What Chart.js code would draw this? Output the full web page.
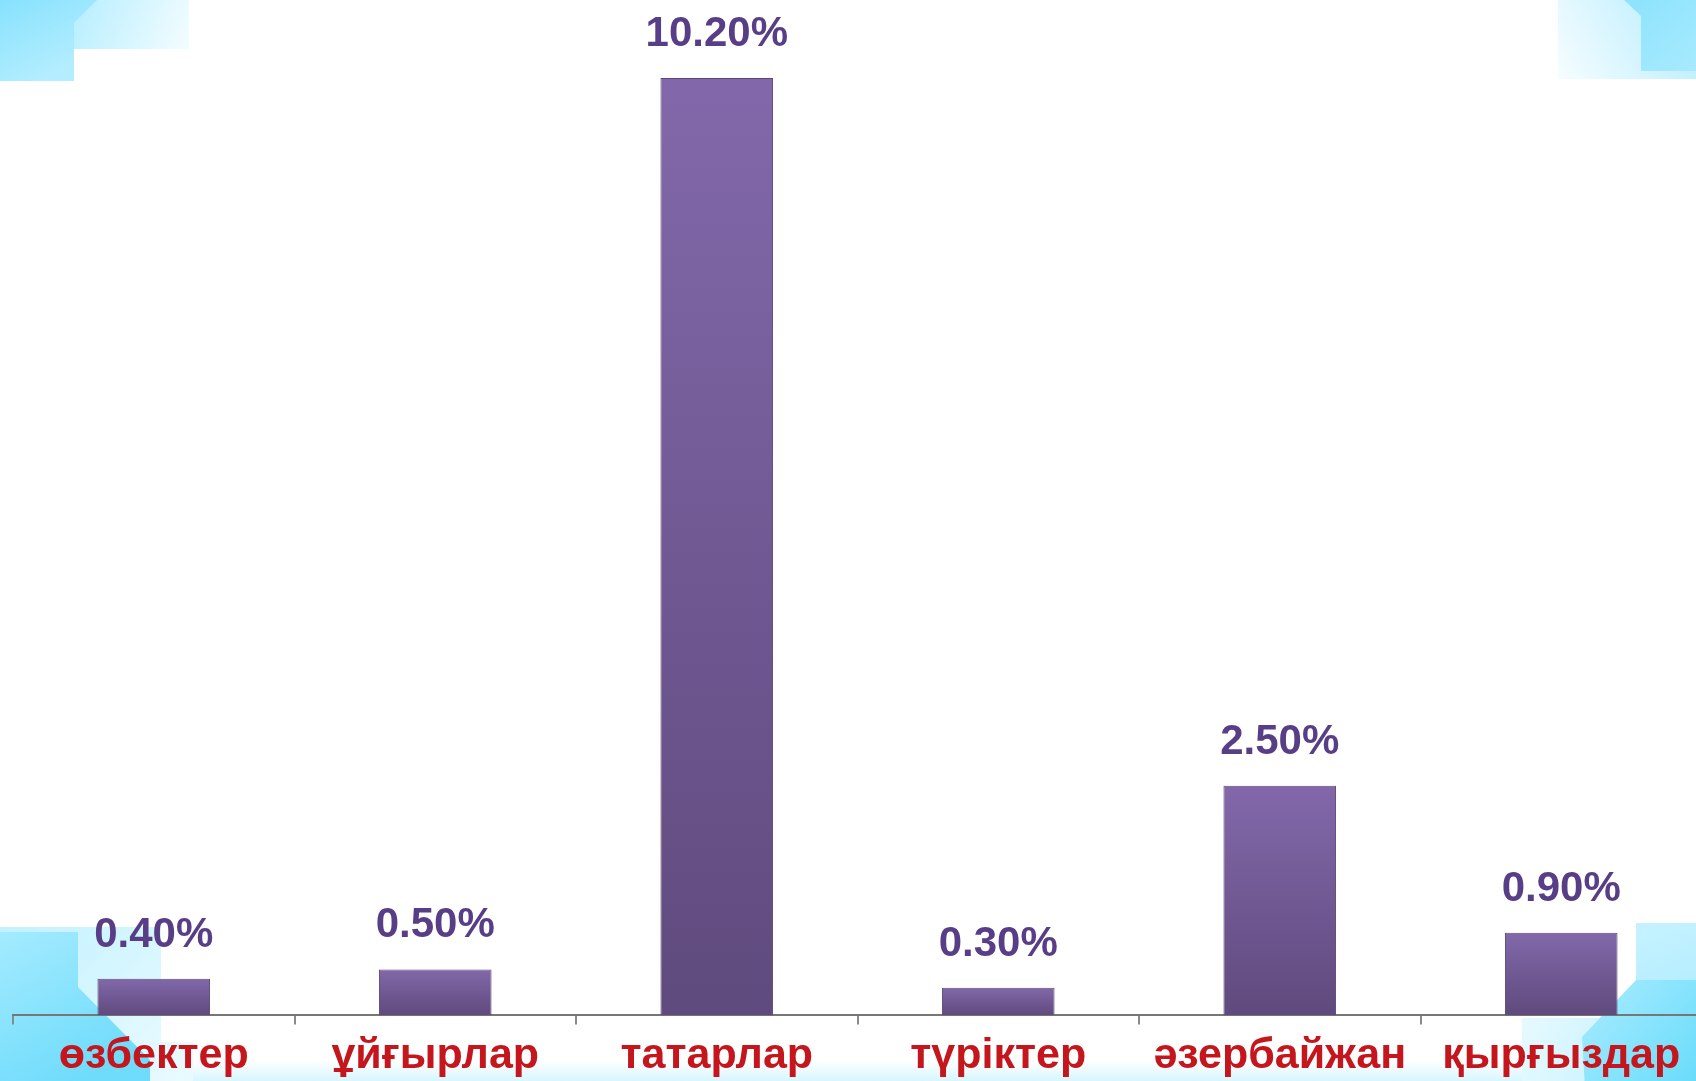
<!DOCTYPE html>
<html>
<head>
<meta charset="utf-8">
<script src="https://cdn.jsdelivr.net/npm/chart.js@4.4.1/dist/chart.umd.min.js"></script>
<style>
    html, body { margin: 0; padding: 0; background: #fff; overflow: hidden; width: 1696px; height: 1081px; }
    canvas { display: block; }
</style>
</head>
<body>
<canvas id="myChart" width="1702" height="1088"></canvas>
<script>
const groupNames = ['өзбектер', 'ұйғырлар', 'татарлар', 'түріктер', 'әзербайжан', 'қырғыздар'];
const shareValues = [0.4, 0.5, 10.2, 0.3, 2.5, 0.9];
const shareLabels = ['0.40%', '0.50%', '10.20%', '0.30%', '2.50%', '0.90%'];

const fontFamily = "'Liberation Sans', Arial, sans-serif";
const VIEW_W = 1696;
const VIEW_H = 1081;

// cyan corner pieces behind the chart
const cornerPlugin = {
    id: 'corners',
    beforeDraw(chart) {
        const ctx = chart.ctx;
        const w = chart.width, h = chart.height;
        const r = VIEW_W;
        ctx.save();
        ctx.fillStyle = '#fff';
        ctx.fillRect(0, 0, w, h);

        const poly = (pts, g) => {
            ctx.beginPath();
            ctx.moveTo(pts[0][0], pts[0][1]);
            pts.slice(1).forEach(p => ctx.lineTo(p[0], p[1]));
            ctx.closePath();
            ctx.fillStyle = g;
            ctx.fill();
        };
        const lin = (x0, y0, x1, y1, c0, c1) => {
            const g = ctx.createLinearGradient(x0, y0, x1, y1);
            g.addColorStop(0, c0);
            g.addColorStop(1, c1);
            return g;
        };

        // bottom strip
        poly([[0, 1060], [w, 1060], [w, h], [0, h]], lin(0, 1060, 0, VIEW_H, 'rgba(255,255,255,1)', '#d8f6ff'));

        // top left
        poly([[74, 0], [189, 0], [189, 49], [74, 49]], lin(74, 0, 189, 49, '#b6eeff', '#f4fdff'));
        poly([[0, 0], [97, 0], [74, 23], [74, 81], [0, 81]], lin(0, 0, 40, 81, '#86e2fd', '#b4edff'));

        // top right
        poly([[1558, 0], [w, 0], [w, 79], [1558, 79]], lin(1558, 79, r, 0, '#f6fdff', '#b4ecff'));
        poly([[1624, 0], [w, 0], [w, 71], [1641, 71], [1641, 16]], lin(1641, 0, r, 71, '#8ee4fd', '#a8eafe'));

        // bottom left
        poly([[0, 927], [161, 927], [161, h], [0, h]], lin(0, 927, 161, VIEW_H, '#c2f1ff', '#e8fbff'));
        poly([[0, 1042], [193, 1042], [193, h], [0, h]], lin(0, 1042, 193, VIEW_H, '#c8f2ff', '#eafbff'));
        poly([[0, 932], [78, 932], [78, 987], [150, 1060], [150, h], [0, h]], lin(0, 932, 80, VIEW_H, '#a4ebff', '#6fdcfb'));

        // bottom right
        poly([[1522, 1018], [w, 1018], [w, h], [1522, h]], lin(1522, 1018, r, VIEW_H, '#e6faff', '#b6edff'));
        poly([[1636, 923], [w, 923], [w, h], [1636, h]], lin(1636, 923, r, VIEW_H, '#c6f2ff', '#a2e9ff'));
        poly([[1636, 980], [w, 980], [w, h], [1585, h], [1582, 1037]], lin(1582, 980, r, VIEW_H, '#aaecff', '#6adcfb'));
        ctx.restore();
    }
};

// percentage labels above each bar
const valueLabelPlugin = {
    id: 'valueLabels',
    afterDatasetsDraw(chart) {
        const ctx = chart.ctx;
        const meta = chart.getDatasetMeta(0);
        ctx.save();
        ctx.font = 'bold 42px ' + fontFamily;
        ctx.fillStyle = '#583e86';
        ctx.textAlign = 'center';
        ctx.textBaseline = 'alphabetic';
        meta.data.forEach((bar, i) => {
            ctx.fillText(shareLabels[i], bar.x, bar.y - 32);
        });
        ctx.restore();
    }
};

const ctx = document.getElementById('myChart');
new Chart(ctx, {
    type: 'bar',
    data: {
        labels: groupNames,
        datasets: [{
            data: shareValues,
            backgroundColor(c) {
                const chart = c.chart;
                if (!chart.chartArea || !chart.scales.y) return '#735c9a';
                const top = chart.scales.y.getPixelForValue(shareValues[c.dataIndex]);
                const g = chart.ctx.createLinearGradient(0, top, 0, chart.chartArea.bottom);
                g.addColorStop(0, '#8268aa');
                g.addColorStop(1, '#5f4a7d');
                return g;
            },
            borderColor: '#5c4a74',
            borderWidth: 1,
            barPercentage: 0.4,
            categoryPercentage: 1
        }]
    },
    options: {
        responsive: false,
        animation: false,
        layout: { padding: { left: 13, right: 0, top: 0, bottom: 0 } },
        plugins: {
            legend: { display: false },
            tooltip: { enabled: false }
        },
        scales: {
            y: {
                display: false,
                min: 0,
                max: 11.05
            },
            x: {
                grid: {
                    offset: true,
                    drawOnChartArea: false,
                    drawTicks: true,
                    tickLength: 9,
                    color: '#8a8a8a',
                    lineWidth: 2
                },
                border: { color: '#777', width: 2 },
                ticks: {
                    color: '#c4161c',
                    padding: 6,
                    font: { family: fontFamily, size: 43, weight: 'bold' }
                }
            }
        }
    },
    plugins: [cornerPlugin, valueLabelPlugin]
});
</script>
</body>
</html>
